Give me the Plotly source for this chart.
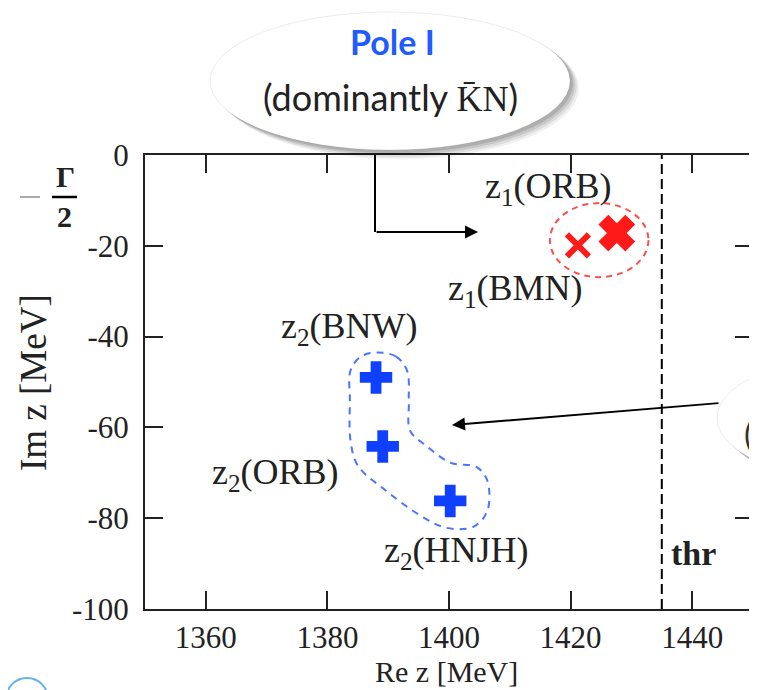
import plotly.graph_objects as go

# ---------------- data ----------------
x_ticks = [1360, 1380, 1400, 1420, 1440]
y_ticks = [0, -20, -40, -60, -80, -100]
y_tick_text = ["0", "-20", "-40", "-60", "-80", "-100"]

# Pole I (z1): BMN, ORB
pole1_re = [1421.2, 1427.6]
pole1_im = [-19.9, -17.2]
# Pole II (z2): BNW, ORB, HNJH
pole2_re = [1388.0, 1389.1, 1400.2]
pole2_im = [-49.0, -64.2, -76.2]

threshold_re = 1435.0

pole1_region = dict(x0=1416.6, x1=1432.8, y0=-26.9, y1=-10.6)
pole2_outline_re = [1388.1, 1391.3, 1393.1, 1393.4, 1393.6, 1396.2, 1400.3, 1404.5, 1406.3,
                    1406.3, 1404.0, 1399.5, 1395.4, 1389.6, 1385.0, 1383.8, 1383.7, 1383.8,
                    1385.5, 1388.1]
pole2_outline_im = [-43.5, -44.4, -47.5, -54.1, -60.7, -64.0, -67.8, -68.7, -71.7,
                    -78.4, -81.9, -82.1, -79.5, -73.9, -68.4, -62.9, -54.1, -47.5,
                    -44.4, -43.5]

label_text = ["z<sub>1</sub>(ORB)", "z<sub>1</sub>(BMN)", "z<sub>2</sub>(BNW)",
              "z<sub>2</sub>(ORB)", "z<sub>2</sub>(HNJH)"]
label_re = [1416.4, 1411.0, 1383.6, 1371.5, 1401.2]
label_im = [-7.3, -29.8, -38.2, -70.4, -87.6]

# ---------------- layout helpers ----------------
# the page body has an 8px margin, so the figure is offset by (8, 8) on screen
W, H = 757, 690
OFF = 8
SX0, SX1, SY0, SY1 = 145, 753, 155, 609   # plot area in screen pixels
PW, PH = SX1 - SX0, SY1 - SY0
L, T = SX0 - OFF, SY0 - OFF
R, B = W - L - PW, H - T - PH


def px(x):
    return (x - SX0) / PW


def py(y):
    return (SY1 - y) / PH


def dx(x):
    return 1350 + (x - SX0) / PW * 100


def dy(y):
    return -(y - SY0) / PH * 100


SERIF = "Liberation Serif"
SANS = "Lato"
RED = "#ff1a1a"
BLUE = "#1040ff"

fig = go.Figure()

# threshold
fig.add_trace(go.Scatter(x=[threshold_re, threshold_re], y=[-100, 0], mode="lines",
                         line=dict(color="black", width=2, dash="10px,5px"),
                         hoverinfo="skip", showlegend=False))
# pole II outline
fig.add_trace(go.Scatter(x=pole2_outline_re, y=pole2_outline_im, mode="lines",
                         line=dict(color="#4d73ff", width=2, dash="7px,6px", shape="spline"),
                         hoverinfo="skip", showlegend=False))
# pole I markers
fig.add_trace(go.Scatter(x=[pole1_re[0]], y=[pole1_im[0]], mode="markers",
                         marker=dict(symbol="x-thin", size=22, line=dict(color=RED, width=6)),
                         showlegend=False))
fig.add_trace(go.Scatter(x=[pole1_re[1]], y=[pole1_im[1]], mode="markers",
                         marker=dict(symbol="x", size=30, color=RED, line=dict(color=RED, width=2)),
                         showlegend=False))
# pole II markers
fig.add_trace(go.Scatter(x=pole2_re, y=pole2_im, mode="markers",
                         marker=dict(symbol="cross", size=27, color=BLUE, line=dict(width=0)),
                         showlegend=False))

shapes = []
# pole I dashed region
shapes.append(dict(type="circle", xref="x", yref="y", **pole1_region,
                   line=dict(color="#ff4d4d", width=2, dash="6px,5px")))
# bent arrow stem
shapes.append(dict(type="line", xref="x", yref="y", x0=dx(375), x1=dx(375), y0=dy(140), y1=dy(232),
                   line=dict(color="black", width=2), layer="above"))


def callout(x0, y0, x1, y1):
    out = []
    for i, op in enumerate([0.06, 0.08, 0.10, 0.12]):
        off = 9 - 2 * i
        out.append(dict(type="circle", xref="paper", yref="paper",
                        x0=px(x0 + off), x1=px(x1 + off), y0=py(y1 + off), y1=py(y0 + off * 0.6),
                        fillcolor="rgba(0,0,0,%.2f)" % op, line=dict(width=0), layer="above"))
    out.append(dict(type="circle", xref="paper", yref="paper",
                    x0=px(x0), x1=px(x1), y0=py(y1), y1=py(y0),
                    fillcolor="white", line=dict(color="rgba(0,0,0,0.08)", width=1), layer="above"))
    return out


shapes += callout(210, 12, 570, 150)
shapes += callout(717, 349, 1077, 487)

# -Gamma/2 symbols
shapes.append(dict(type="line", xref="paper", yref="paper", x0=px(52), x1=px(77), y0=py(197), y1=py(197),
                   line=dict(color="black", width=2.5)))
shapes.append(dict(type="line", xref="paper", yref="paper", x0=px(20), x1=px(40), y0=py(197), y1=py(197),
                   line=dict(color="#aaaaaa", width=2)))
# small globe icon at bottom-left
shapes.append(dict(type="circle", xref="paper", yref="paper", x0=px(6), x1=px(48), y0=py(720), y1=py(678),
                   line=dict(color="#66b2e8", width=2)))

annotations = []


def note(x, y, text, size, family=SERIF, color="#222", ref="paper", **kw):
    d = dict(x=x, y=y, xref=ref, yref=("y" if ref == "x" else ref), text=text, showarrow=False,
             xanchor="center", yanchor="middle",
             font=dict(family=family, size=size, color=color))
    d.update(kw)
    annotations.append(d)


for t, xr, yi in zip(label_text, label_re, label_im):
    note(xr, yi, t, 36, ref="x")
note(dx(693), dy(553), "<b>thr</b>", 34, ref="x")

# arrows
annotations.append(dict(x=dx(478), y=dy(232), ax=dx(375), ay=dy(232), xref="x", yref="y",
                        axref="x", ayref="y", text="", showarrow=True, arrowhead=2, arrowsize=1.3,
                        arrowwidth=2, arrowcolor="black", standoff=0))
annotations.append(dict(x=dx(452), y=dy(425), ax=dx(720), ay=dy(403), xref="x", yref="y",
                        axref="x", ayref="y", text="", showarrow=True, arrowhead=2, arrowsize=1.3,
                        arrowwidth=2, arrowcolor="black", standoff=0))

# callout text
note(px(392), py(42), "<b>Pole I</b>", 34, family=SANS, color="#1f5bff")
note(px(390), py(97), "(dominantly <span style='font-family:Liberation Serif'>K\u0304N</span>)", 36,
     family=SANS)
note(px(742), py(433), "(", 34, family=SANS, color="#333333", xanchor="left")

# axis titles
note(px(33), py(383), "Im z [MeV]", 37, textangle=-90)
note(px(446), py(671), "Re z [MeV]", 30, borderpad=0)
note(px(65), py(176), "<b>\u0393</b>", 30)
note(px(64), py(217), "<b>2</b>", 30)

axis_common = dict(showgrid=False, zeroline=False, showline=True, linewidth=2, linecolor="#222",
                   mirror="ticks", ticks="inside", ticklen=18, tickwidth=2, tickcolor="#222",
                   tickfont=dict(family=SERIF, size=31, color="#222"))

fig.update_layout(
    width=W, height=H, margin=dict(l=L, r=R, t=T, b=B, autoexpand=False),
    paper_bgcolor="white", plot_bgcolor="white",
    xaxis=dict(range=[1350, 1450], tickvals=x_ticks, ticklabelstandoff=0, **axis_common),
    yaxis=dict(range=[-100, 0], tickvals=y_ticks, ticktext=y_tick_text, ticklabelstandoff=8, **axis_common),
    shapes=shapes, annotations=annotations, showlegend=False,
)

fig.write_html("out.html")
